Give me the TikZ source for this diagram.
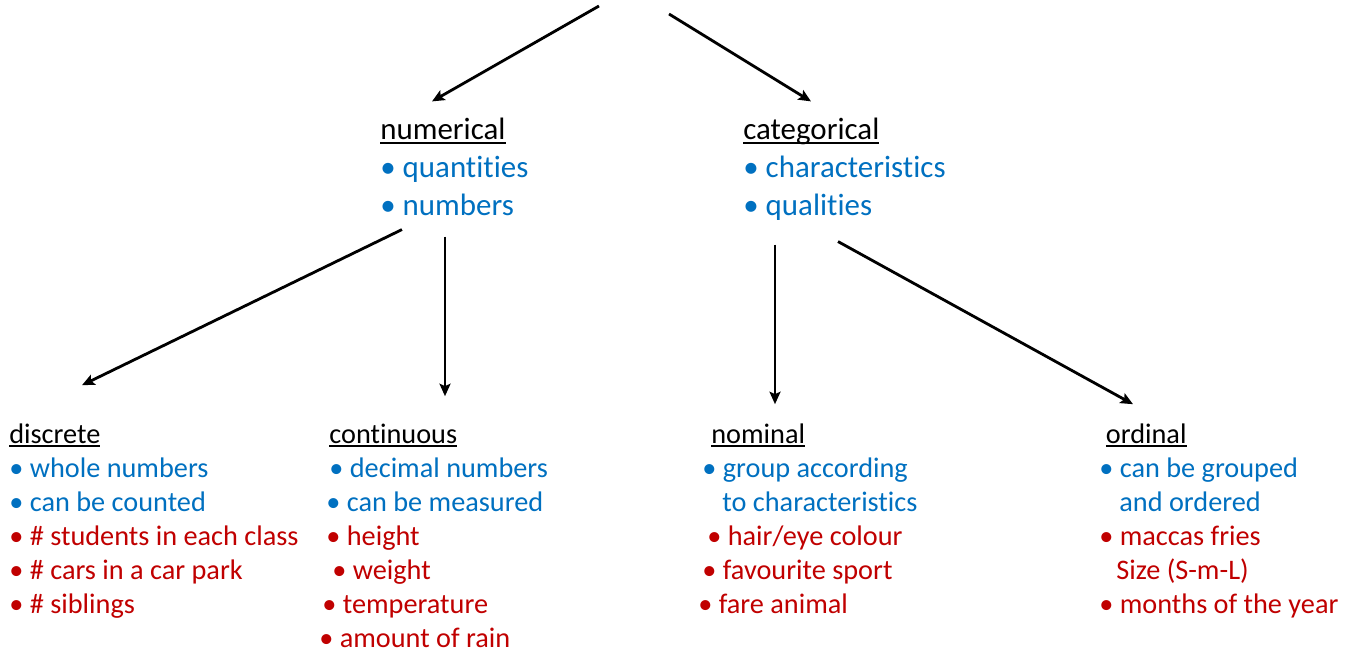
\documentclass[tikz,border=0pt]{standalone}
\usepackage{fontspec}
\setmainfont{Carlito}[RawFeature={-liga;-clig;-calt;-dlig}]
\usepackage{xcolor}
\usetikzlibrary{arrows.meta,positioning}

\definecolor{defblue}{RGB}{0,112,192}
\definecolor{exred}{RGB}{192,0,0}

% heading with a flat underline (not pushed down by descenders)
\newcommand{\uhead}[1]{\strut\setbox0\hbox{#1}\rlap{\rule[-0.14em]{\wd0}{0.065em}}\box0}
% definition lines in blue, example lines in red
\newcommand{\dfn}[1]{\textcolor{defblue}{\strut#1}}
\newcommand{\exm}[1]{\textcolor{exred}{\strut#1}}

\begin{document}
\begin{tikzpicture}[x=0.02cm, y=-0.02cm, >={Stealth[length=2.5mm, width=2.2mm, inset=0.5mm]},
 block/.style={anchor=north west, inner sep=0pt, align=left},
 upper/.style={block, font=\fontsize{17.6}{21.6}\selectfont},
 lower/.style={block, font=\fontsize{16.1}{19.35}\selectfont},
 link/.style={->, line width=1.6pt}]
\useasboundingbox (0,0) rectangle (1359,655);

% first split
\node[upper] (num) at (380,112.4) {\uhead{numerical}\\ \dfn{• quantities}\\ \dfn{• numbers}};
\node[upper] (cat) at (743,112.4) {\uhead{categorical}\\ \dfn{• characteristics}\\ \dfn{• qualities}};

% second split
\node[lower] (disc) at (9,419.2) {\uhead{discrete}\\ \dfn{• whole numbers}\\ \dfn{• can be counted}\\
 \exm{• \# students in each class}\\ \exm{• \# cars in a car park}\\ \exm{• \# siblings}};
\node[lower] (cont) at (319,419.2) {\hspace*{5.7pt}\uhead{continuous}\\ \hspace*{5.7pt}\dfn{• decimal numbers}\\
 \hspace*{4pt}\dfn{• can be measured}\\ \hspace*{4pt}\exm{• height}\\ \hspace*{7.4pt}\exm{• weight}\\
 \hspace*{1.7pt}\exm{• temperature}\\ \exm{• amount of rain}};
\node[lower] (nom) at (698,419.2) {\hspace*{7.4pt}\uhead{nominal}\\ \hspace*{2.3pt}\dfn{• group according}\\
 \hspace*{13.7pt}\dfn{to characteristics}\\ \hspace*{5.1pt}\exm{• hair/eye colour}\\
 \hspace*{2.3pt}\exm{• favourite sport}\\ \exm{• fare animal}};
\node[lower] (ord) at (1099,419.2) {\hspace*{3.7pt}\uhead{ordinal}\\ \dfn{• can be grouped}\\
 \hspace*{11.4pt}\dfn{and ordered}\\ \exm{• maccas fries}\\ \hspace*{9.7pt}\exm{Size (S-m-L)}\\
 \exm{• months of the year}};

% arrows coming in from above
\coordinate (srcL) at (599,6);
\coordinate (srcR) at (669,14);
\draw[link] (srcL) -- ([shift={(52,-11)}]num.north west);
\draw[link] (srcR) -- ([shift={(68,-11)}]cat.north west);

\draw[link] ([shift={(22,2.6)}]num.south west) -- ([shift={(73,-34)}]disc.north west);
\draw[link] ([shift={(65,9.6)}]num.south west) -- ([shift={(126,-23)}]cont.north west);
\draw[link] ([shift={(32,17.6)}]cat.south west) -- ([shift={(77,-15)}]nom.north west);
\draw[link] ([shift={(95,14.6)}]cat.south west) -- ([shift={(34,-15)}]ord.north west);
\end{tikzpicture}
\end{document}
